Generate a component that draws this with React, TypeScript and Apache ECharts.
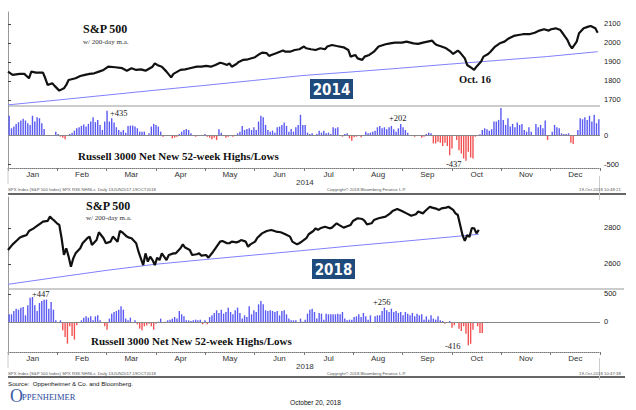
import React, { useEffect, useRef } from "react";
import * as echarts from "echarts";

const months = ["Jan", "Feb", "Mar", "Apr", "May", "Jun", "Jul", "Aug", "Sep", "Oct", "Nov", "Dec"];
const SLOTS = 254; // trading-day slots per year on the x axis

const price2014Slots = [0,2,5,7,9,10,12,15,16,17,19,20,22,24,25,26,29,31,33,35,37,39,41,43,46,49,51,53,55,57,59,62,63,64,66,68,70,71,74,76,78,81,83,85,87,89,91,92,94,95,96,98,99,101,103,106,108,109,111,112,113,115,118,119,121,123,125,127,128,130,132,134,136,137,139,141,144,146,147,149,150,152,153,155,157,159,162,164,166,169,171,174,176,178,180,182,183,184,186,188,190,191,193,194,196,197,199,200,201,203,204,206,207,209,211,213,215,217,219,221,224,226,228,230,232,233,235,237,238,240,241,242,244,245,247,249,250,252,253];
const price2014 = [1849,1832,1837,1837,1814,1849,1844,1844,1814,1779,1788,1774,1749,1761,1779,1805,1814,1826,1832,1837,1840,1849,1858,1875,1872,1867,1854,1867,1858,1861,1854,1875,1893,1884,1875,1849,1819,1837,1858,1861,1867,1875,1875,1879,1875,1884,1896,1893,1884,1893,1875,1889,1900,1911,1914,1925,1942,1949,1946,1932,1937,1946,1960,1954,1954,1963,1967,1981,1972,1967,1963,1972,1967,1981,1989,1984,1977,1963,1928,1937,1919,1911,1928,1937,1954,1981,1993,1998,2002,2002,2007,1998,1995,2002,2007,2012,1998,1989,1981,1972,1954,1942,1960,1949,1919,1884,1867,1858,1875,1902,1928,1942,1954,1981,1998,2007,2025,2037,2042,2046,2047,2054,2065,2072,2065,2072,2077,2068,2051,2016,1989,1972,2007,2051,2077,2086,2089,2077,2054];
const ma2014Slots = [0,21,42,63,84,105,126,147,168,189,210,231,253];
const ma2014 = [1674,1699,1725,1751,1776,1802,1828,1847,1867,1888,1908,1928,1954];

const price2018Slots = [0,2,4,5,6,8,9,11,12,14,15,17,18,19,20,21,22,23,24,25,26,27,28,29,31,32,34,35,36,38,39,41,42,44,45,47,48,49,51,52,53,55,56,58,59,60,61,62,63,64,65,66,68,69,71,72,74,75,76,78,79,81,82,83,85,86,88,89,91,92,94,95,96,98,99,100,102,103,104,106,107,109,111,113,115,117,119,121,122,124,125,126,128,129,131,132,133,134,136,138,139,141,142,144,145,147,148,150,152,153,154,156,157,159,162,164,165,167,169,171,173,175,176,178,179,181,182,184,185,186,188,189,191,192,193,194,195,196,197,198,199,200,201,202];
const price2018 = [2678,2709,2733,2746,2752,2761,2783,2798,2807,2826,2835,2839,2863,2850,2839,2826,2817,2743,2650,2687,2641,2585,2631,2659,2687,2715,2743,2752,2706,2733,2776,2743,2715,2724,2752,2724,2783,2776,2752,2746,2743,2715,2668,2594,2659,2613,2641,2622,2594,2635,2622,2659,2622,2650,2659,2659,2687,2709,2691,2678,2650,2654,2659,2646,2650,2635,2668,2687,2724,2728,2715,2715,2724,2720,2724,2733,2724,2696,2709,2724,2746,2770,2783,2789,2780,2776,2765,2752,2724,2709,2715,2724,2743,2765,2783,2798,2789,2798,2807,2798,2802,2826,2817,2802,2807,2817,2839,2854,2850,2839,2820,2826,2844,2854,2863,2881,2894,2906,2894,2881,2868,2876,2891,2881,2894,2918,2913,2906,2900,2909,2913,2918,2900,2881,2872,2817,2761,2728,2760,2750,2800,2798,2770,2789];
const ma2018Slots = [0,21,42,63,84,105,126,147,168,189,202];
const ma2018 = [2487,2526,2564,2598,2624,2649,2674,2700,2724,2749,2765];

const bars2014 = [
  350,130,160,205,235,265,295,265,218,188,
  350,247,324,306,218,118,3,-5,-4,11,
  70,29,-18,-35,-65,2,29,53,88,130,
  147,171,195,159,206,247,324,236,276,188,
  100,247,435,247,306,230,147,100,70,100,
  53,171,177,177,159,129,70,70,70,4,
  41,159,206,188,159,70,-18,3,11,-3,
  -48,-35,-18,29,70,100,118,100,41,4,
  -18,11,3,11,29,-18,-35,-65,-35,-77,
  112,53,-4,-35,-18,11,-18,11,41,70,
  171,100,118,129,100,147,100,247,348,324,
  188,100,70,88,53,147,159,188,230,171,
  70,118,70,147,188,365,188,
  188,53,29,41,11,29,88,53,88,41,
  53,29,147,129,147,3,-18,29,41,-48,
  -88,-29,-18,-6,-29,3,70,41,53,70,
  88,147,171,129,147,112,147,171,112,70,
  129,202,147,100,53,3,2,-18,11,11,
  -35,-18,29,53,41,-136,-136,-106,-124,-182,
  -124,-182,-342,-224,-5,-77,-254,-313,-400,-437,
  -283,-383,-400,-18,11,24,100,129,112,88,
  112,247,247,276,483,276,188,306,159,206,
  147,230,188,206,100,70,147,70,4,206,
  147,188,129,265,-77,3,70,188,147,129,
  41,29,29,41,-124,-147,3,100,306,288,
  324,276,348,247,365,218,288,
];

const bars2018 = [
  137,137,196,238,220,256,268,119,298,434,
  447,298,196,339,375,399,399,238,357,220,
  30,-18,30,-149,-268,-387,-77,-250,-315,-60,
  -18,30,77,101,77,101,30,101,119,30,
  -18,-77,-137,60,149,179,196,220,280,220,
  60,30,77,-18,30,-42,-119,-149,-77,-60,
  -30,-77,-137,-30,5,60,-18,5,30,42,
  60,89,60,196,137,101,30,30,18,30,
  42,30,42,-42,30,-42,89,119,161,208,
  161,220,149,179,256,179,137,208,256,161,
  60,119,89,280,137,208,179,315,375,315,
  208,196,208,196,179,196,119,196,208,137,
  60,30,30,30,-18,60,5,42,
  149,220,238,179,60,161,149,42,149,137,
  137,137,137,149,137,179,60,30,42,42,
  89,101,137,89,161,101,42,119,0,101,
  119,119,196,256,208,179,238,179,196,161,
  179,119,179,149,119,161,101,149,119,137,
  42,101,42,119,60,42,101,30,18,-30,
  -18,18,-101,-60,-18,-119,-161,-77,-208,-416,
  -390,-137,-18,-77,-196,-196,
];

const price2014Ticks = [1700, 1800, 1900, 2000, 2100];
const bars2014Ticks = [-500, 0];
const price2018Ticks = [2600, 2800];
const bars2018Ticks = [0, 500];

const SERIF = "'Liberation Serif', 'Times New Roman', serif";
const SANS = "'Liberation Sans', Arial, sans-serif";
const BLUE = "#5a5af2";
const RED = "#f25252";

const zip = (xs: number[], ys: number[]) => xs.map((x, i) => [x, ys[i]]);

function valueX(grid: number) {
  return { type: "value", gridIndex: grid, min: 0, max: SLOTS, show: false };
}
function monthX(grid: number) {
  return {
    type: "category",
    gridIndex: grid,
    position: "bottom",
    data: months,
    boundaryGap: true,
    axisLine: { show: true, lineStyle: { color: "#777", type: "dotted", width: 1 } },
    axisTick: { show: true, alignWithLabel: false, length: 3, lineStyle: { color: "#777" } },
    axisLabel: { color: "#333", fontSize: 8, fontFamily: SANS, margin: 2 },
    splitLine: { show: false },
  };
}
function rightY(grid: number, min: number, max: number, ticks: number[]) {
  return {
    type: "value",
    gridIndex: grid,
    position: "right",
    min,
    max,
    axisLine: { show: true, lineStyle: { color: "#999", width: 1 } },
    axisTick: { show: true, inside: false, length: 3, lineStyle: { color: "#444" }, customValues: ticks },
    axisLabel: {
      show: true, customValues: ticks, fontSize: 7.5, color: "#222", fontFamily: SANS, margin: 4,
      formatter: (v: number) => String(v),
    },
    splitLine: { show: false },
  };
}
function priceSeries(xi: number, yi: number, data: number[][]) {
  return {
    type: "line", xAxisIndex: xi, yAxisIndex: yi, data, showSymbol: false, symbol: "none",
    lineStyle: { color: "#111", width: 2.2 }, z: 4,
  };
}
function maSeries(xi: number, yi: number, data: number[][]) {
  return {
    type: "line", xAxisIndex: xi, yAxisIndex: yi, data, showSymbol: false, symbol: "none",
    lineStyle: { color: "#8080ff", width: 1 }, z: 3,
  };
}
function barSeries(xi: number, yi: number, vals: number[]) {
  return {
    type: "bar", xAxisIndex: xi, yAxisIndex: yi,
    data: vals.map((v, i) => [i + 0.5, v]),
    barWidth: 1.4,
    itemStyle: { color: (p: any) => (p.value[1] >= 0 ? BLUE : RED) },
    markLine: {
      silent: true, symbol: "none", label: { show: false },
      lineStyle: { color: "#888", width: 1, type: "solid" },
      data: [{ yAxis: 0 }],
    },
  };
}

function txt(x: number, y: number, text: string, size: number, extra: any = {}) {
  return {
    type: "text", x, y, silent: true, z: 10,
    style: {
      text, fontSize: size, fontFamily: extra.family || SERIF, fontWeight: extra.weight || "normal",
      fill: extra.fill || "#222", align: extra.align || "left", verticalAlign: "middle",
    },
  };
}
function hline(x1: number, x2: number, y: number, stroke: string, w = 1) {
  return { type: "line", silent: true, z: 9, shape: { x1, y1: y, x2, y2: y }, style: { stroke, lineWidth: w } };
}
function vline(x: number, y1: number, y2: number, stroke: string, w = 1) {
  return { type: "line", silent: true, z: 9, shape: { x1: x, y1, x2: x, y2 }, style: { stroke, lineWidth: w } };
}
function yearBox(x: number, y: number, label: string) {
  return [
    { type: "rect", silent: true, z: 10, shape: { x, y, width: 43, height: 20 }, style: { fill: "#1f4a7c" } },
    txt(x + 21.5, y + 10.5, label, 15, {
      family: "'Liberation Sans Narrow', 'DejaVu Sans Condensed', sans-serif",
      weight: "bold", fill: "#fff", align: "center",
    }),
  ];
}

const option: any = {
  animation: false,
  backgroundColor: "#fff",
  grid: [
    { left: 8, top: 12, width: 592, height: 94 },
    { left: 8, top: 106, width: 592, height: 62 },
    { left: 8, top: 197, width: 592, height: 92 },
    { left: 8, top: 289, width: 592, height: 63 },
  ],
  xAxis: [valueX(0), valueX(1), monthX(1), valueX(2), valueX(3), monthX(3)],
  yAxis: [
    rightY(0, 1668, 2163, price2014Ticks),
    rightY(1, -566, 519, bars2014Ticks),
    rightY(2, 2461, 2972, price2018Ticks),
    rightY(3, -536, 589, bars2018Ticks),
  ],
  series: [
    maSeries(0, 0, zip(ma2014Slots, ma2014)),
    priceSeries(0, 0, zip(price2014Slots, price2014)),
    barSeries(1, 1, bars2014),
    maSeries(3, 2, zip(ma2018Slots, ma2018)),
    priceSeries(3, 2, zip(price2018Slots, price2018)),
    barSeries(4, 3, bars2018),
  ],
  graphic: [
    // separators
    hline(8, 600, 106, "#999"),
    hline(8, 626, 194, "#333", 1.5),
    hline(8, 624, 289, "#999"),
    hline(8, 625, 377, "#333", 1.5),
    vline(8, 168, 184, "#ccc"),
    vline(599.5, 176, 200, "#ccc"),
    vline(8, 352, 368, "#ccc"),
    vline(599.5, 358, 380, "#ccc"),
    // 2014 panel
    txt(83, 29, "S&P 500", 12, { weight: "bold", fill: "#111" }),
    txt(83, 42, "w/ 200-day m.a.", 7, { fill: "#333" }),
    txt(459, 79, "Oct. 16", 10.5, { weight: "bold", fill: "#111" }),
    ...yearBox(310, 79, "2014"),
    txt(110, 113, "+435", 8.5),
    txt(389, 118, "+202", 8.5),
    txt(446, 164, "-437", 8.5),
    txt(78, 156, "Russell 3000 Net New 52-week Highs/Lows", 11, { weight: "bold", fill: "#111" }),
    txt(296, 182, "2014", 8, { family: SANS, fill: "#333" }),
    txt(8, 189, "SPX Index (S&P 500 Index) SPX R3K NHNLs  Daily 13JUN2017-19OCT2018", 4.3, { family: SANS, fill: "#555" }),
    txt(327, 189, "Copyright\u00a9 2018 Bloomberg Finance L.P.", 4.3, { family: SANS, fill: "#555" }),
    txt(579, 189, "19-Oct-2018 10:48:21", 4.3, { family: SANS, fill: "#555" }),
    // 2018 panel
    txt(86, 206, "S&P 500", 12, { weight: "bold", fill: "#111" }),
    txt(86, 218, "w/ 200-day m.a.", 7, { fill: "#333" }),
    ...yearBox(312, 259, "2018"),
    txt(32, 294, "+447", 8.5),
    txt(373, 302, "+256", 8.5),
    txt(445, 346, "-416", 8.5),
    txt(91, 341, "Russell 3000 Net New 52-week Highs/Lows", 11, { weight: "bold", fill: "#111" }),
    txt(296, 366, "2018", 8, { family: SANS, fill: "#333" }),
    txt(8, 373, "SPX Index (S&P 500 Index) SPX R3K NHNLs  Daily 13JUN2017-19OCT2018", 4.3, { family: SANS, fill: "#555" }),
    txt(327, 373, "Copyright\u00a9 2018 Bloomberg Finance L.P.", 4.3, { family: SANS, fill: "#555" }),
    txt(579, 373, "19-Oct-2018 10:47:38", 4.3, { family: SANS, fill: "#555" }),
    // footer
    txt(8, 383, "Source:  Oppenheimer & Co. and Bloomberg.", 6.2, { family: SANS, fill: "#111" }),
    txt(10, 396, "O", 18, { fill: "#3b5ba8" }),
    txt(22, 397, "PPENHEIMER", 8.5, { fill: "#2a4a9a" }),
    txt(290, 402, "October 20, 2018", 6.6, { family: SANS, fill: "#111" }),
  ],
};

export default function App() {
  const ref = useRef<HTMLDivElement>(null);
  useEffect(() => {
    if (!ref.current) return;
    const chart = echarts.init(ref.current, null, { renderer: "svg" });
    chart.setOption(option);
    return () => chart.dispose();
  }, []);
  return (
    <div
      ref={ref}
      style={{ position: "absolute", left: 0, top: 0, width: 636, height: 410, background: "#fff" }}
    />
  );
}
